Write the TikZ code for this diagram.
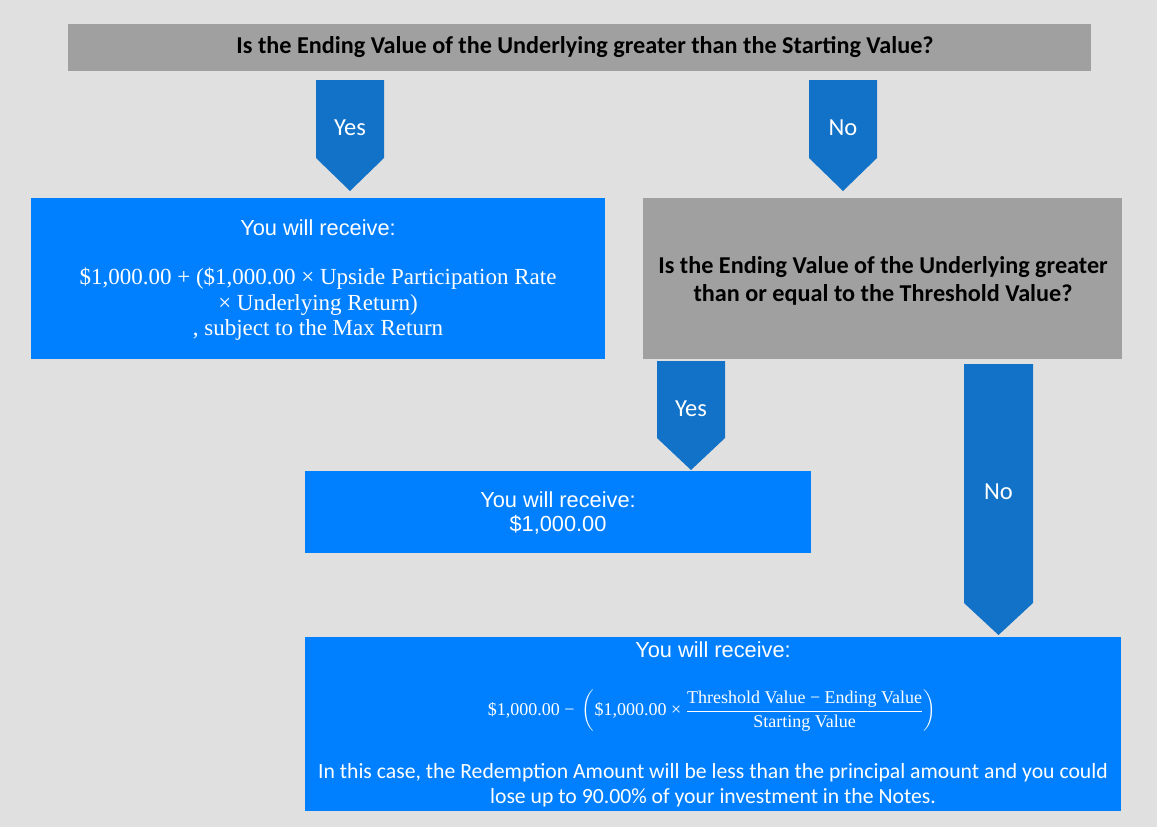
\documentclass[tikz,border=0pt]{standalone}
\usepackage{fontspec}
\usepackage{amsmath}
\setmainfont{Carlito}
\newfontfamily\arialf{Liberation Sans}
\newfontfamily\seriff{Liberation Serif}
\definecolor{bgc}{RGB}{224,224,224}
\definecolor{qgray}{RGB}{160,160,160}
\definecolor{arrblue}{RGB}{17,114,200}
\definecolor{boxblue}{RGB}{0,128,255}
\tikzset{
  qbox/.style={fill=qgray, draw=none},
  abox/.style={fill=boxblue, draw=none},
  arrowshape/.style={fill=arrblue, draw=none},
  qtext/.style={font=\fontsize{24.2}{28.5}\selectfont\bfseries, text=black, align=center, inner sep=0pt},
  armtext/.style={font=\fontsize{24.5}{28}\selectfont, text=white, inner sep=0pt},
  rtext/.style={font=\arialf\fontsize{21.8}{26}\selectfont, text=white, inner sep=0pt},
  ftext/.style={font=\seriff\fontsize{23}{27}\selectfont, text=white, inner sep=0pt},
  ctext/.style={font=\fontsize{21.7}{26}\selectfont, text=white, inner sep=0pt},
}
\begin{document}
\begin{tikzpicture}[x=1pt,y=-1pt]
\fill[bgc] (0,0) rectangle (1157,827);
\useasboundingbox (0,0) rectangle (1157,827);

% top question
\fill[qbox] (68,24) rectangle (1091,71);
\node[qtext] (q1) at (585,47) {Is the Ending Value of the Underlying greater than the Starting Value?};

% arrows level 1
\fill[arrowshape] (316,80) -- (384,80) -- (384,158) -- (350,191) -- (316,158) -- cycle;
\node[armtext] (yes1) at (350,128) {Yes};
\fill[arrowshape] (809,80) -- (877,80) -- (877,158) -- (843,191) -- (809,158) -- cycle;
\node[armtext] (no1) at (843,128) {No};

% box 1
\fill[abox] (31,198) rectangle (605,359);
\node[rtext] (b1a) at (318,228) {You will receive:};
\node[ftext] (b1b) at (318,279) {\$1,000.00 + (\$1,000.00 × Upside Participation Rate};
\node[ftext] (b1c) at (318,305) {× Underlying Return)};
\node[ftext] (b1d) at (318,330) {, subject to the Max Return};

% question 2
\fill[qbox] (643,198) rectangle (1122,359);
\node[qtext] (q2) at (883,281) {Is the Ending Value of the Underlying greater\\than or equal to the Threshold Value?};

% arrows level 2
\fill[arrowshape] (657,361) -- (725,361) -- (725,438) -- (691,470) -- (657,438) -- cycle;
\node[armtext] (yes2) at (691,409) {Yes};
\fill[arrowshape] (964,364) -- (1033,364) -- (1033,603) -- (998.5,635) -- (964,603) -- cycle;
\node[armtext] (no2) at (998.5,492) {No};

% box 3
\fill[abox] (305,471) rectangle (811,553);
\node[rtext] (b3a) at (558,500) {You will receive:};
\node[rtext] (b3b) at (558,525) {\$1,000.00};

% bottom box
\fill[abox] (305,637) rectangle (1121,811);
\node[rtext] (b4a) at (713,650) {You will receive:};
\node[text=white, inner sep=0pt] (b4b) at (712,711) {\seriff\fontsize{18}{21}\selectfont
 $\displaystyle \mbox{\$1,000.00 − }\left(\mbox{\$1,000.00 × }\frac{\mbox{Threshold Value − Ending Value}}{\mbox{Starting Value}}\right)$};
\node[ctext] (b4c) at (713,773) {In this case, the Redemption Amount will be less than the principal amount and you could};
\node[ctext] (b4d) at (713,798) {lose up to 90.00\% of your investment in the Notes.};
\end{tikzpicture}
\end{document}
